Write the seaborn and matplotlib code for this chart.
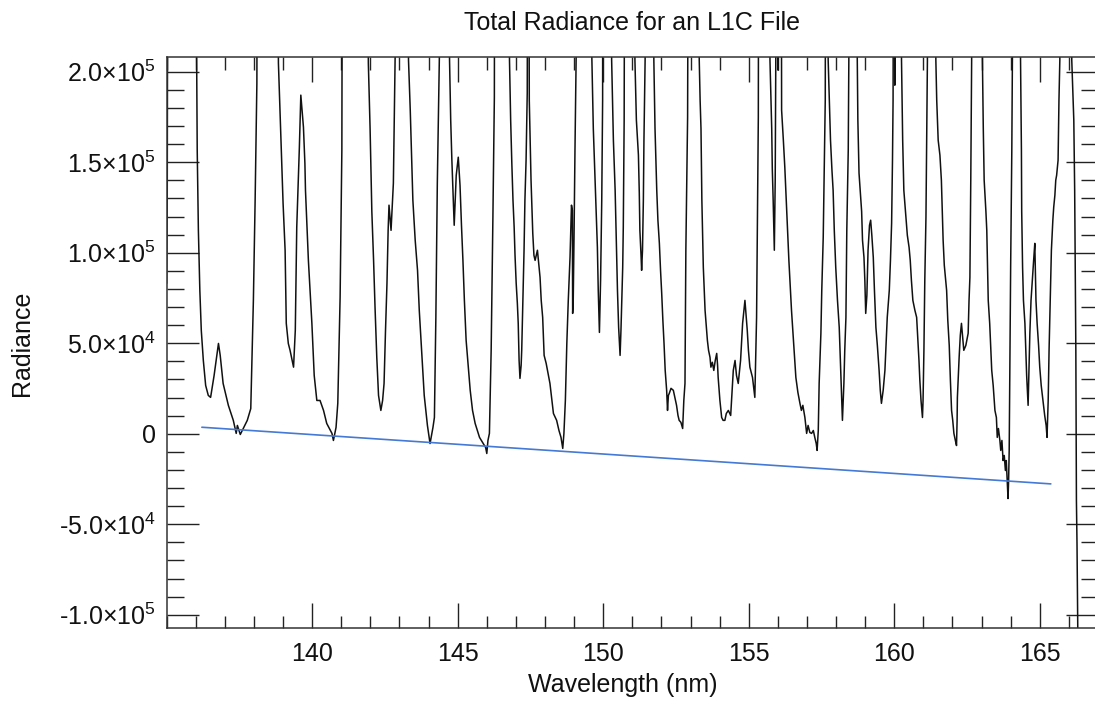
import numpy as np
import pandas as pd
import matplotlib
matplotlib.use("Agg")
import matplotlib.pyplot as plt
from matplotlib.ticker import MultipleLocator, FixedLocator, FuncFormatter
import seaborn as sns

# spectrum (wavelength in nm, radiance in units of 1e3)
# lines that shoot past the top of the frame are given 400
wavelength = [
    135.00, 135.02, 135.05, 136.00,
    136.03, 136.05, 136.09, 136.14, 136.19, 136.26, 136.34, 136.43, 136.51, 136.63, 136.78, 136.84,
    136.94, 137.12, 137.29, 137.39, 137.43, 137.53, 137.63, 137.77, 137.89, 137.98, 138.04, 138.10, 138.13,
    138.80, 138.84, 138.93, 139.00, 139.07, 139.11, 139.18, 139.24, 139.36, 139.42, 139.47, 139.56, 139.61,
    139.70, 139.75, 139.77, 139.87, 139.99, 140.07, 140.16, 140.27, 140.39, 140.50, 140.68, 140.73, 140.82,
    140.88, 140.96, 141.02, 141.05,
    141.90, 141.93, 141.99, 142.05, 142.11, 142.16, 142.22, 142.28, 142.36, 142.42, 142.47, 142.52, 142.57,
    142.61, 142.64, 142.71, 142.76, 142.79, 142.83, 142.85, 142.88,
    143.28, 143.31, 143.37, 143.46, 143.54, 143.62, 143.68, 143.77, 143.85, 143.96, 144.05, 144.15, 144.20,
    144.25, 144.30, 144.37, 144.40,
    144.69, 144.72, 144.76, 144.80, 144.85, 144.88, 144.95, 145.02, 145.08, 145.13, 145.18, 145.23, 145.29,
    145.36, 145.43, 145.51, 145.60, 145.75, 145.88, 145.96, 146.00, 146.04, 146.09, 146.15, 146.21, 146.26,
    146.28,
    146.75, 146.78, 146.82, 146.86, 146.90, 146.94, 146.97, 147.01, 147.05, 147.08, 147.11, 147.14, 147.18,
    147.20, 147.25, 147.28, 147.31, 147.35, 147.39, 147.42, 147.43, 147.46, 147.52, 147.58, 147.62, 147.66,
    147.74, 147.83, 147.87, 147.92, 147.97, 148.04, 148.17, 148.29, 148.40, 148.48, 148.55, 148.61, 148.65,
    148.70, 148.75, 148.80, 148.86, 148.91, 148.94, 148.95, 148.97, 149.00, 149.03, 149.07, 149.10,
    149.58, 149.61, 149.66, 149.72, 149.76, 149.80, 149.83, 149.87, 149.91, 149.95, 149.98, 149.99,
    150.27, 150.29, 150.35, 150.41, 150.46, 150.49, 150.53, 150.58, 150.61, 150.67, 150.69, 150.72, 150.75,
    151.07, 151.09, 151.14, 151.21, 151.24, 151.26, 151.30, 151.32, 151.35, 151.38, 151.40, 151.44, 151.45,
    151.72, 151.74, 151.78, 151.84, 151.88, 151.93, 151.97, 152.01, 152.05, 152.09, 152.13, 152.18, 152.21,
    152.24, 152.27, 152.33, 152.41, 152.47, 152.52, 152.57, 152.61, 152.67, 152.73, 152.77, 152.81, 152.84,
    152.90, 152.94,
    153.28, 153.30, 153.33, 153.36, 153.39, 153.44, 153.50, 153.58, 153.62, 153.67, 153.70, 153.75, 153.80,
    153.85, 153.90, 153.93, 153.95, 154.01, 154.07, 154.12, 154.18, 154.23, 154.30, 154.38, 154.47, 154.53,
    154.58, 154.64, 154.72, 154.79, 154.87, 154.95, 154.99, 155.04, 155.13, 155.21, 155.27, 155.30, 155.33,
    155.35,
    155.70, 155.73, 155.79, 155.81, 155.84, 155.88, 155.91, 155.93, 155.95, 156.00, 156.01, 156.03,
    156.11, 156.13, 156.19, 156.24, 156.29, 156.34, 156.38, 156.42, 156.47, 156.53, 156.58, 156.62, 156.69,
    156.76, 156.81, 156.86, 156.93, 156.99, 157.04, 157.10, 157.16, 157.22, 157.27, 157.32, 157.35, 157.39,
    157.42, 157.48, 157.51, 157.56, 157.60, 157.63, 157.65,
    157.70, 157.73, 157.77, 157.81, 157.86, 157.90, 157.94, 157.99, 158.05, 158.11, 158.15, 158.18, 158.22,
    158.27, 158.30, 158.34, 158.37, 158.42, 158.44, 158.46,
    158.71, 158.73, 158.75, 158.79, 158.84, 158.88, 158.91, 158.96, 158.99, 159.02, 159.06, 159.10, 159.15,
    159.19, 159.23, 159.28, 159.32, 159.37, 159.42, 159.48, 159.52, 159.56, 159.62, 159.68, 159.76, 159.83,
    159.87, 159.91, 159.94, 159.96, 159.99, 160.00, 160.02, 160.04,
    160.23, 160.25, 160.29, 160.33, 160.40, 160.45, 160.51, 160.55, 160.59, 160.64, 160.71, 160.77, 160.82,
    160.85, 160.88, 160.92, 160.97, 160.99, 161.02, 161.05, 161.09, 161.12, 161.14, 161.15,
    161.40, 161.43, 161.46, 161.51, 161.57, 161.62, 161.65, 161.68, 161.72, 161.80, 161.84, 161.89, 161.93,
    161.97, 162.01, 162.05, 162.10, 162.14, 162.16, 162.17, 162.23, 162.27, 162.31, 162.36, 162.39, 162.46,
    162.54, 162.57, 162.60, 162.63, 162.66, 162.67,
    163.00, 163.03, 163.06, 163.09, 163.15, 163.18, 163.20, 163.23, 163.28, 163.32, 163.35, 163.40, 163.46,
    163.51, 163.54, 163.58, 163.63, 163.66, 163.70, 163.74, 163.78, 163.82, 163.85, 163.88, 163.91, 163.93,
    163.95, 163.97, 164.00, 164.04, 164.06, 164.08,
    164.31, 164.34, 164.37, 164.38, 164.41, 164.44, 164.49, 164.52, 164.55, 164.60, 164.62, 164.66, 164.70,
    164.75, 164.79, 164.83, 164.85, 164.87, 164.91, 164.96, 165.00, 165.05, 165.11, 165.17, 165.22, 165.25,
    165.29, 165.32, 165.36, 165.40, 165.45, 165.48, 165.52, 165.55, 165.58, 165.63, 165.66, 165.69, 165.70,
    166.07, 166.10, 166.17, 166.20, 166.24, 166.26, 166.28, 166.31, 166.33,
]

radiance_k = [
    83.1, 130.7, 400, 400,
    208.1, 156.7, 112.4, 79.2, 57.1, 40.5, 26.7, 21.2, 20.1, 32.2, 49.9, 43.3,
    27.8, 15.7, 7.4, 0.2, 4.6, -0.4, 2.9, 7.4, 13.9, 73.7, 129.0, 193.7, 400,
    400, 204.8, 162.2, 127.4, 101.4, 61.0, 49.9, 46.1, 36.8, 57.1, 114.1, 158.3, 187.1,
    169.4, 149.4, 134.5, 95.8, 61.0, 32.2, 18.4, 18.4, 12.9, 5.7, 0.2, -3.7, 3.5,
    16.8, 75.4, 156.7, 400,
    400, 204.8, 168.6, 122.8, 95.8, 69.8, 42.2, 21.2, 12.9, 18.4, 27.8, 57.1, 83.1,
    112.4, 126.3, 112.4, 129.0, 138.4, 184.3, 207.6, 400,
    400, 206.4, 178.8, 129.0, 106.9, 90.3, 68.2, 43.3, 21.2, 4.6, -5.4, 3.5, 9.0,
    64.3, 138.4, 207.6, 400,
    400, 206.4, 173.3, 151.2, 129.0, 115.2, 142.8, 152.8, 137.3, 115.2, 95.8, 73.7, 51.6,
    37.8, 24.0, 12.9, 5.7, -2.0, -5.4, -7.6, -10.9, -3.7, 0.2, 46.1, 119.7, 185.9,
    400,
    400, 206.4, 173.3, 149.5, 129.0, 114.1, 98.6, 83.1, 72.1, 61.0, 40.5, 30.6, 37.8,
    46.1, 79.2, 101.4, 129.0, 151.2, 188.2, 400, 400, 184.3, 140.1, 110.7, 98.6, 95.8,
    101.4, 86.4, 73.7, 64.3, 43.3, 38.9, 27.8, 11.2, 7.4, 1.8, -2.0, -8.1, 0.2,
    18.4, 49.9, 73.7, 97.5, 126.3, 123.5, 66.5, 73.7, 112.4, 156.7, 207.6, 400,
    400, 207.6, 168.6, 140.1, 121.1, 103.0, 79.2, 56.0, 84.8, 129.0, 184.3, 400,
    400, 206.4, 162.2, 134.5, 101.4, 79.2, 58.8, 43.3, 57.1, 92.0, 114.1, 173.3, 400,
    400, 206.4, 173.3, 154.0, 133.0, 112.4, 98.6, 90.3, 101.4, 129.0, 162.2, 206.4, 400,
    400, 206.4, 168.6, 134.5, 117.9, 105.2, 90.3, 77.6, 62.7, 49.9, 35.0, 24.0, 12.9,
    21.2, 22.3, 25.1, 24.0, 19.5, 15.7, 10.1, 7.4, 6.3, 2.9, 18.4, 27.8, 101.4,
    174.9, 400,
    400, 206.4, 184.3, 168.6, 129.0, 92.0, 68.2, 51.6, 46.1, 42.2, 36.8, 39.5, 35.0,
    40.5, 44.4, 37.8, 31.1, 18.4, 9.0, 7.4, 7.4, 11.2, 12.9, 10.1, 35.0, 40.5,
    32.2, 27.8, 40.5, 61.0, 73.7, 57.1, 46.1, 36.8, 31.1, 20.1, 64.3, 118.0, 174.9,
    400,
    400, 206.4, 168.6, 146.5, 129.0, 101.4, 140.1, 206.4, 400, 400, 200.9, 400,
    400, 178.8, 162.2, 147.3, 129.0, 110.7, 95.8, 83.1, 68.2, 53.3, 40.5, 31.1, 22.8,
    16.8, 12.9, 15.7, 9.0, 0.2, 4.6, 0.7, 0.2, 1.8, -2.0, -5.4, -9.2, 1.8,
    27.8, 55.5, 79.2, 108.5, 151.2, 184.3, 400,
    400, 206.4, 184.3, 162.2, 145.6, 134.5, 112.4, 92.0, 73.7, 58.8, 40.5, 27.8, 7.4,
    27.8, 46.1, 64.3, 112.4, 156.7, 206.4, 400,
    400, 206.4, 173.3, 144.0, 131.8, 122.8, 106.9, 97.5, 84.8, 66.5, 76.5, 101.4, 115.2,
    118.0, 109.7, 97.5, 79.2, 58.8, 48.8, 35.0, 24.0, 16.8, 24.0, 35.0, 64.3, 79.2,
    95.8, 116.3, 151.2, 184.3, 400, 400, 192.6, 400,
    400, 206.4, 162.2, 134.5, 119.7, 109.7, 103.0, 95.8, 84.8, 73.7, 68.2, 64.3, 49.9,
    40.5, 29.5, 18.4, 9.0, 18.4, 46.1, 84.8, 119.7, 173.3, 206.4, 400,
    400, 206.4, 184.3, 162.2, 153.9, 140.1, 123.5, 106.9, 93.1, 79.2, 62.7, 48.8, 29.5,
    12.9, 7.4, 0.2, -3.7, -6.5, 7.4, 20.1, 42.2, 54.4, 61.0, 51.6, 46.1, 48.8,
    55.5, 73.7, 86.4, 140.1, 206.4, 400,
    400, 206.4, 168.6, 140.1, 122.8, 112.4, 95.8, 73.7, 61.0, 46.1, 35.0, 26.7, 12.9,
    9.0, -2.0, 2.9, -3.7, -9.2, -3.7, -14.8, -12.0, -20.3, -14.8, -25.8, -35.8, -25.8,
    -9.2, 29.5, 92.0, 156.7, 206.4, 400,
    400, 206.4, 156.7, 122.8, 92.0, 73.7, 61.0, 46.1, 32.2, 15.7, 29.5, 55.5, 73.7,
    86.4, 95.8, 105.2, 90.3, 73.7, 61.0, 48.8, 36.8, 26.7, 18.4, 10.1, 4.6, -2.0,
    18.4, 46.1, 73.7, 101.4, 118.0, 125.2, 131.8, 140.1, 142.8, 151.2, 184.3, 206.4, 400,
    400, 206.4, 173.3, 134.5, 46.1, -36.9, -60.6, -114.2, -140.0,
]

# straight baseline drawn in blue
fit_wavelength = [136.21, 165.38]
fit_radiance_k = [3.6, -27.7]

x_ticks = [140, 145, 150, 155, 160, 165]

spectrum = pd.DataFrame({"wavelength": wavelength, "radiance": np.array(radiance_k) * 1e3})
baseline = pd.DataFrame({"wavelength": fit_wavelength, "radiance": np.array(fit_radiance_k) * 1e3})

sns.set_theme(style="ticks")
plt.rcParams["font.family"] = ["Liberation Sans", "DejaVu Sans"]
plt.rcParams["mathtext.fontset"] = "custom"
plt.rcParams["mathtext.rm"] = "Liberation Sans"
plt.rcParams["axes.unicode_minus"] = False


def sci_label(v, pos):
    # IDL style: 2.0x10^5, plain hyphen for negatives
    if abs(v) < 1:
        return "0"
    exp = int(np.floor(np.log10(abs(v)) + 1e-9))
    mant = v / 10 ** exp
    return "%.1f\u00d7" % mant + r"$\mathregular{10^{%d}}$" % exp


fig = plt.figure(figsize=(10.95, 7.04), dpi=100)
ax = fig.add_axes([0.1522, 0.1075, 0.8505, 0.8111])

sns.lineplot(data=spectrum, x="wavelength", y="radiance", color="#111111", lw=1.1,
             estimator=None, sort=False, ax=ax)
sns.lineplot(data=baseline, x="wavelength", y="radiance", color="#4479d4", lw=1.2,
             estimator=None, sort=False, ax=ax)

ax.set_xlim(135, 167)
ax.set_ylim(-1.075e5, 2.08e5)

ax.xaxis.set_major_locator(FixedLocator(x_ticks))
ax.xaxis.set_minor_locator(MultipleLocator(1))
ax.yaxis.set_major_locator(MultipleLocator(5e4))
ax.yaxis.set_minor_locator(MultipleLocator(1e4))
ax.yaxis.set_major_formatter(FuncFormatter(sci_label))

ax.tick_params(which="both", direction="in", top=True, right=True, color="#222222",
               width=1.0, labelsize=18, labelcolor="#111111")
ax.tick_params(axis="x", which="major", length=18, pad=10)
ax.tick_params(axis="x", which="minor", length=9)
ax.tick_params(axis="y", which="major", length=23, pad=8)
ax.tick_params(axis="y", which="minor", length=12)

for side in ax.spines.values():
    side.set_color("#333333")
    side.set_linewidth(1.1)
# the right frame edge is cut off by the image border in the original
ax.spines["right"].set_visible(False)

ax.set_title("Total Radiance for an L1C File", fontsize=18, pad=20, color="#111111")
ax.set_xlabel("Wavelength (nm)", fontsize=18, color="#111111")
ax.set_ylabel("Radiance", fontsize=18, color="#111111")
ax.xaxis.set_label_coords(0.49, -0.078)
ax.yaxis.set_label_coords(-0.142, 0.5)

fig.savefig("out.png", dpi=100)
